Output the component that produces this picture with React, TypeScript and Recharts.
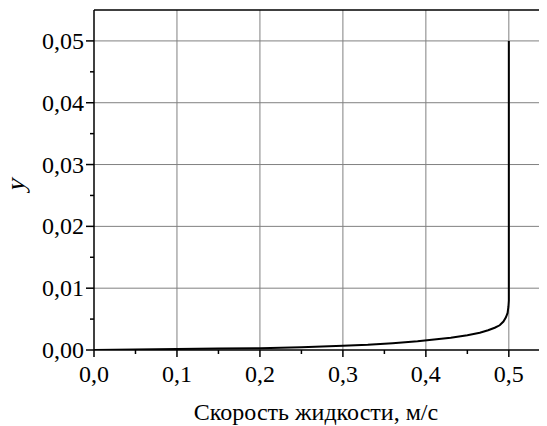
import { LineChart, Line, XAxis, YAxis, ReferenceLine } from "recharts";

// скорость жидкости (м/с) и координата y
const velocity = [0, 0.05, 0.1, 0.15, 0.2, 0.25, 0.3, 0.33, 0.36, 0.39, 0.41, 0.43, 0.45, 0.465, 0.475, 0.483, 0.489, 0.4935, 0.4965, 0.4985, 0.4995, 0.5, 0.5];
const yPos = [0, 0.00008, 0.00016, 0.00023, 0.0003, 0.00045, 0.0007, 0.00085, 0.0011, 0.0014, 0.0017, 0.002, 0.0024, 0.0028, 0.0032, 0.0036, 0.004, 0.0046, 0.0053, 0.006, 0.007, 0.008, 0.05];

const xMajor = [0, 0.1, 0.2, 0.3, 0.4, 0.5];
const xMinor = [0.05, 0.15, 0.25, 0.35, 0.45];
const yMajor = [0, 0.01, 0.02, 0.03, 0.04, 0.05];
const yMinor = [0.005, 0.015, 0.025, 0.035, 0.045];

const data = velocity.map((u, i) => ({ u, y: yPos[i] }));

const FONT = '"Liberation Serif", "Times New Roman", serif';
const fmtX = (v: number) => v.toFixed(1).replace(".", ",");
const fmtY = (v: number) => v.toFixed(2).replace(".", ",");
const isMajor = (list: number[], v: number) => list.some((m) => Math.abs(m - v) < 1e-9);

function XTick(props: any) {
  const { x, y, payload } = props;
  const major = isMajor(xMajor, payload.value);
  return (
    <g>
      <line x1={x} x2={x} y1={y} y2={y + (major ? 7 : 4)} stroke="#000" strokeWidth={1.5} />
      {major && (
        <text x={x} y={y + 32} textAnchor="middle" style={{ fontFamily: FONT, fontSize: 24 }} fill="#000">
          {fmtX(payload.value)}
        </text>
      )}
    </g>
  );
}

function YTick(props: any) {
  const { x, y, payload } = props;
  const major = isMajor(yMajor, payload.value);
  return (
    <g>
      <line x1={x - (major ? 8 : 4)} x2={x} y1={y} y2={y} stroke="#000" strokeWidth={1.5} />
      {major && (
        <text x={x - 10} y={y + 8} textAnchor="end" style={{ fontFamily: FONT, fontSize: 24 }} fill="#000">
          {fmtY(payload.value)}
        </text>
      )}
    </g>
  );
}

export default function App() {
  return (
    <div style={{ position: "relative", marginLeft: -8, marginTop: -8, width: 547, height: 426, background: "#fff", fontFamily: FONT }}>
      <LineChart width={547} height={426} data={data} margin={{ top: 10, right: 0, bottom: 0, left: 0 }}>
        <XAxis
          dataKey="u"
          type="number"
          domain={[0, 0.546]}
          allowDataOverflow
          ticks={[...xMajor, ...xMinor].sort((a, b) => a - b)}
          interval={0}
          tick={<XTick />}
          tickLine={false}
          tickSize={0}
          tickMargin={0}
          height={76}
          axisLine={{ stroke: "#000", strokeWidth: 1.5 }}
        />
        <YAxis
          dataKey="y"
          type="number"
          domain={[0, 0.055]}
          allowDataOverflow
          ticks={[...yMajor, ...yMinor].sort((a, b) => a - b)}
          interval={0}
          tick={<YTick />}
          tickLine={false}
          tickSize={0}
          tickMargin={0}
          width={94}
          axisLine={{ stroke: "#000", strokeWidth: 1.5 }}
        />
        {xMajor.slice(1).map((v) => (
          <ReferenceLine key={"gx" + v} x={v} stroke="#808080" strokeWidth={1} />
        ))}
        {yMajor.slice(1).map((v) => (
          <ReferenceLine key={"gy" + v} y={v} stroke="#808080" strokeWidth={1} />
        ))}
        <ReferenceLine y={0.055} stroke="#000" strokeWidth={1.5} />
        <Line dataKey="y" type="linear" stroke="#000" strokeWidth={2} dot={false} isAnimationActive={false} />
        {/* наклон вместо italic: курсивное начертание ломает подбор шрифта */}
        <text
          x={0}
          y={0}
          transform="translate(24, 186) rotate(-90) skewX(-14)"
          textAnchor="middle"
          style={{ fontFamily: FONT, fontSize: 26 }}
          fill="#000"
        >
          y
        </text>
      </LineChart>
      <div
        style={{
          position: "absolute",
          left: 316,
          top: 400,
          transform: "translateX(-50%)",
          fontFamily: FONT,
          fontSize: 24,
          lineHeight: "24px",
          whiteSpace: "nowrap",
          color: "#000",
        }}
      >
        Скорость жидкости, м/с
      </div>
    </div>
  );
}
